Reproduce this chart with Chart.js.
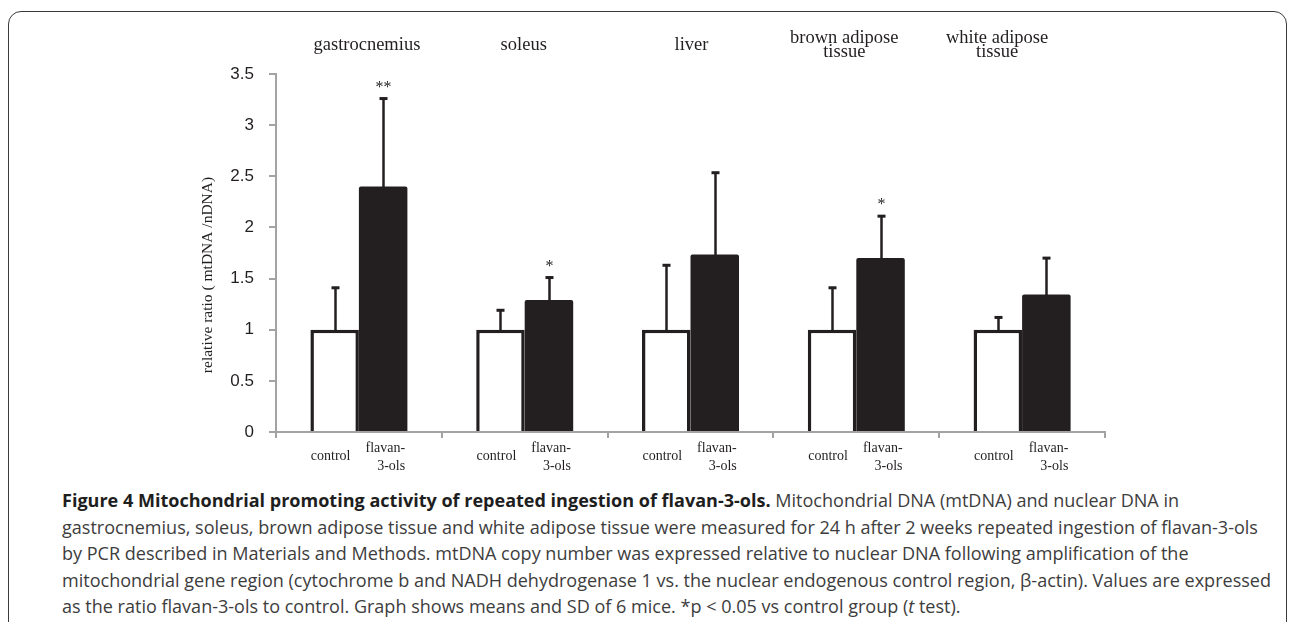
<!DOCTYPE html>
<html>
<head>
<meta charset="utf-8">
<script src="https://cdn.jsdelivr.net/npm/chart.js@4.4.1/dist/chart.umd.min.js"></script>
<style>
  html, body { margin:0; padding:0; background:#ffffff; }
  body { width:1290px; height:622px; overflow:hidden; position:relative; }
  #frame { position:absolute; left:8px; top:11px; width:1279px; height:720px; border:1.6px solid #3a3a3a; border-radius:13px; box-sizing:border-box; }
  #chartCanvas { position:absolute; left:0; top:0; }
  .cap { position:absolute; left:62px; font-family:"Open Sans", "Noto Sans", sans-serif; font-size:18px; line-height:24px; color:#3d3d3d; white-space:nowrap; transform-origin:0 0; }
  .cap b { color:#1e1e1e; font-weight:700; }
</style>
</head>
<body>
<div id="frame"></div>
<canvas id="chartCanvas" width="1290" height="480"></canvas>
<div class="cap" id="l1" style="top:488px"><b>Figure 4 Mitochondrial promoting activity of repeated ingestion of flavan-3-ols.</b> Mitochondrial DNA (mtDNA) and nuclear DNA in</div>
<div class="cap" id="l2" style="top:514.5px">gastrocnemius, soleus, brown adipose tissue and white adipose tissue were measured for 24 h after 2 weeks repeated ingestion of flavan-3-ols</div>
<div class="cap" id="l3" style="top:541px">by PCR described in Materials and Methods. mtDNA copy number was expressed relative to nuclear DNA following amplification of the</div>
<div class="cap" id="l4" style="top:567.5px">mitochondrial gene region (cytochrome b and NADH dehydrogenase 1 vs. the nuclear endogenous control region, β-actin). Values are expressed</div>
<div class="cap" id="l5" style="top:594px">as the ratio flavan-3-ols to control. Graph shows means and SD of 6 mice. *p &lt; 0.05 vs control group (<i>t</i> test).</div>
<script>
// ---- data ----
const tissues = ['gastrocnemius', 'soleus', 'liver', 'brown adipose tissue', 'white adipose tissue'];
const tissueLabelLines = [['gastrocnemius'], ['soleus'], ['liver'], ['brown adipose', 'tissue'], ['white adipose', 'tissue']];
const groupNames = ['control', 'flavan-3-ols'];
const groupLabelLines = [['control'], ['flavan-', '3-ols']];
const controlMeans = [1.0, 1.0, 1.0, 1.0, 1.0];
const controlSD = [0.41, 0.19, 0.63, 0.41, 0.12];
const flavanMeans = [2.40, 1.29, 1.735, 1.70, 1.345];
const flavanSD = [0.86, 0.22, 0.80, 0.41, 0.355];
const flavanSignificance = ['**', '*', '', '*', ''];
const yTicks = [0, 0.5, 1, 1.5, 2, 2.5, 3, 3.5];
const yTickLabels = ['0', '0.5', '1', '1.5', '2', '2.5', '3', '3.5'];
const yTitle = 'relative ratio ( mtDNA /nDNA)';

// ---- style ----
const INK = '#231f20';
const AXIS = '#a3a3a3';
const SERIF = '"Liberation Serif", "Times New Roman", serif';
const tissueLabelOffsets = [8, -1, 1, -12, -25];

const meansBySet = [controlMeans, flavanMeans];
const sdBySet = [controlSD, flavanSD];

const decorPlugin = {
  id: 'decor',
  afterDatasetsDraw(chart) {
    const ctx = chart.ctx;
    const yScale = chart.scales.y;
    const xScale = chart.scales.x;
    ctx.save();
    // error bars
    for (let d = 0; d < 2; d++) {
      const meta = chart.getDatasetMeta(d);
      meta.data.forEach((bar, i) => {
        const x = Math.round(bar.x) + 0.5;
        const yTop = bar.y;
        const yErr = yScale.getPixelForValue(meansBySet[d][i] + sdBySet[d][i]);
        ctx.strokeStyle = INK;
        ctx.lineWidth = 2.5;
        ctx.beginPath();
        ctx.moveTo(x, yTop + 2);
        ctx.lineTo(x, yErr);
        ctx.stroke();
        ctx.fillStyle = INK;
        ctx.fillRect(x - 4, yErr - 1.5, 8, 3);
        if (d === 1 && flavanSignificance[i]) {
          ctx.font = '16px ' + SERIF;
          ctx.textAlign = 'center';
          ctx.textBaseline = 'middle';
          ctx.fillText(flavanSignificance[i], x, yErr - 11);
        }
      });
    }
    // bar group labels under the axis
    ctx.fillStyle = INK;
    ctx.font = '14px ' + SERIF;
    ctx.textBaseline = 'middle';
    const base = xScale.top;
    chart.getDatasetMeta(0).data.forEach((bar) => {
      ctx.textAlign = 'center';
      ctx.fillText(groupLabelLines[0][0], bar.x - 4, base + 24);
    });
    chart.getDatasetMeta(1).data.forEach((bar) => {
      ctx.textAlign = 'right';
      ctx.fillText(groupLabelLines[1][0], bar.x + 22, base + 16);
      ctx.fillText(groupLabelLines[1][1], bar.x + 22, base + 34);
    });
    // tissue labels on top
    ctx.font = '18.5px ' + SERIF;
    ctx.textAlign = 'center';
    ctx.textBaseline = 'alphabetic';
    tissueLabelLines.forEach((lines, i) => {
      const x = xScale.getPixelForValue(i) + tissueLabelOffsets[i];
      if (lines.length === 1) {
        ctx.fillText(lines[0], x, 50);
      } else {
        ctx.fillText(lines[0], x, 43);
        ctx.fillText(lines[1], x, 57);
      }
    });
    // y title
    ctx.font = '15.5px ' + SERIF;
    ctx.translate(212, 275);
    ctx.rotate(-Math.PI / 2);
    ctx.textAlign = 'center';
    ctx.textBaseline = 'alphabetic';
    ctx.fillText(yTitle, 0, 0);
    ctx.restore();
  }
};

const ctx = document.getElementById('chartCanvas').getContext('2d');
new Chart(ctx, {
  type: 'bar',
  data: {
    labels: tissues,
    datasets: [
      { label: groupNames[0], data: controlMeans, backgroundColor: '#ffffff', borderColor: INK, borderWidth: 3.5, borderSkipped: 'bottom' },
      { label: groupNames[1], data: flavanMeans, backgroundColor: INK, borderColor: INK, borderWidth: 0, borderRadius: { topLeft: 2, topRight: 2 } }
    ]
  },
  options: {
    responsive: false,
    animation: false,
    events: [],
    layout: { padding: { left: 0, top: 74, right: 185, bottom: 0 } },
    datasets: { bar: { barPercentage: 1.0, categoryPercentage: 0.585 } },
    plugins: { legend: { display: false }, tooltip: { enabled: false }, title: { display: false } },
    scales: {
      x: {
        grid: { display: true, drawOnChartArea: false, color: AXIS, lineWidth: 2, tickLength: 6, offset: true },
        border: { color: AXIS, width: 2 },
        ticks: { display: false },
        afterFit(s) { s.height = 48; }
      },
      y: {
        min: 0, max: 3.5,
        afterBuildTicks(s) { s.ticks = yTicks.map(v => ({ value: v })); },
        ticks: {
          callback: (v) => yTickLabels[yTicks.indexOf(v)],
          font: { family: '"Liberation Sans", Arial, sans-serif', size: 17 },
          color: INK, padding: 15
        },
        grid: { drawOnChartArea: false, color: AXIS, lineWidth: 2, tickLength: 7 },
        border: { color: AXIS, width: 2 },
        afterFit(s) { s.width = 276; }
      }
    }
  },
  plugins: [decorPlugin]
});

// fit caption lines to the reference width
(function fitCaption() {
  const l4 = document.getElementById('l4');
  const w = l4.getBoundingClientRect().width;
  const s = (1271 - 62) / w;
  ['l1', 'l2', 'l3', 'l4', 'l5'].forEach(id => {
    document.getElementById(id).style.transform = 'scaleX(' + s.toFixed(4) + ')';
  });
})();
</script>
</body>
</html>
